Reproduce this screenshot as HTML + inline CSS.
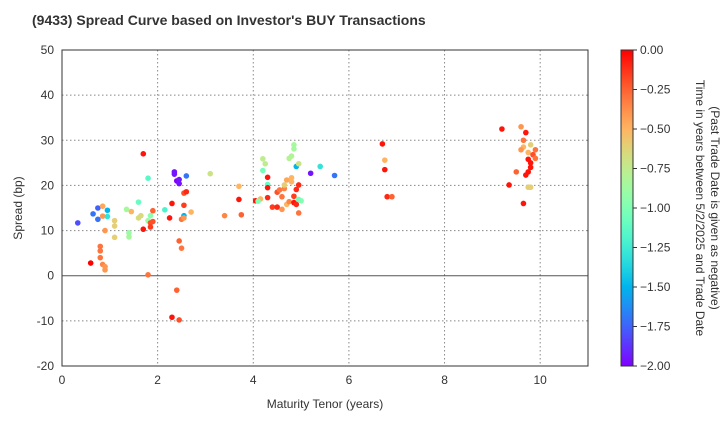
<!DOCTYPE html><html><head><meta charset="utf-8"><style>body{margin:0;background:#fff}svg text{font-family:"Liberation Sans",sans-serif;fill:#333}</style></head><body>
<svg id="c" width="720" height="420" xmlns="http://www.w3.org/2000/svg">
<defs><linearGradient id="g" x1="0" y1="1" x2="0" y2="0"></linearGradient></defs>
<text x="32" y="25" font-size="14" font-weight="bold" style="fill:#333">(9433)   Spread Curve based on Investor's BUY Transactions</text>
<g id="plot"></g>
</svg>
<script>
const xTicks=[0,2,4,6,8,10];
const yTicks=[-20,-10,0,10,20,30,40,50];
const cTicks=[0,-0.25,-0.5,-0.75,-1,-1.25,-1.5,-1.75,-2];
const cTickLabels=["0.00","−0.25","−0.50","−0.75","−1.00","−1.25","−1.50","−1.75","−2.00"];
const tenor=[0.33,0.6,0.65,0.75,0.75,0.8,0.8,0.8,0.85,0.9,0.9,0.85,0.85,0.95,0.95,0.9,1.1,1.1,1.1,1.35,1.45,1.4,1.4,1.6,1.65,1.7,1.6,1.8,1.85,1.8,1.85,1.9,1.9,1.85,1.7,1.8,2.15,2.3,2.25,2.35,2.35,2.4,2.45,2.45,2.6,2.55,2.55,2.6,2.5,2.55,2.55,2.7,2.45,2.5,2.3,2.45,2.4,3.1,3.4,3.7,3.7,3.75,
4.2,4.25,4.2,4.3,4.3,4.3,4.3,4.15,4.05,4.1,4.4,4.5,4.5,4.55,4.6,4.65,4.7,4.65,4.8,4.8,4.75,4.8,4.85,4.85,4.9,4.95,4.7,4.6,4.75,4.85,4.9,4.95,5,4.9,4.95,4.95,4.85,5.2,5.4,5.7,6.7,6.75,6.75,6.8,6.9,
9.2,9.6,9.7,9.65,9.8,9.65,9.75,9.9,9.85,9.75,9.8,9.8,9.75,9.7,9.5,9.35,9.75,9.8,9.65,9.9,9.6];
const spread=[11.7,2.8,13.7,15,12.5,6.5,5.5,4,2.5,1.3,2,13.2,15.4,14.5,13.1,10,12.2,11,8.5,14.7,14.2,9.5,8.6,12.8,13.3,27,16.3,21.6,13.3,12.2,11.7,14.4,12,10.8,10.3,0.2,14.6,16,12.8,23,22.5,21,21.3,20.4,22.1,13.3,18.3,18.6,12.5,12.8,15.6,14.1,7.7,6.1,-9.2,-9.8,-3.2,22.6,13.3,19.8,16.9,13.5,
25.9,24.8,23.3,21.8,20.2,19.5,17.3,17,16.6,16.5,15.2,15.2,18.5,19,17.5,19.3,21.2,20.1,21.7,20.8,26,26.5,29,28.1,24.2,24.8,15.8,14.7,16.4,16.2,15.8,16.9,16.6,19.1,20.1,13.9,17.6,22.7,24.2,22.2,29.2,25.6,23.5,17.5,17.5,
32.5,33,31.7,30,29,28.5,27.3,27.9,26.8,25.8,25,24,23,22.3,23,20.1,19.6,19.6,16,26,27.9];
const timeYears=[-1.8,0,-1.7,-1.75,-1.7,-0.3,-0.3,-0.3,-0.35,-0.4,-0.4,-0.4,-0.45,-1.5,-1.3,-0.4,-0.6,-0.6,-0.6,-0.85,-0.5,-0.9,-0.85,-0.65,-0.65,-0.05,-1.1,-1.15,-0.95,-0.9,-0.2,-0.25,-0.2,-0.15,-0.05,-0.3,-1.2,-0.05,-0.05,-1.95,-1.95,-2,-1.95,-1.95,-1.7,-1.5,-0.2,-0.1,-0.3,-0.4,-0.15,-0.5,-0.25,-0.3,-0.05,-0.2,-0.25,-0.7,-0.35,-0.5,-0.05,-0.25,
-0.75,-0.75,-1.05,-0.05,-1.1,-0.05,-0.1,-0.5,-0.05,-1,-0.15,-0.1,-0.2,-0.3,-0.3,-0.35,-0.45,-0.6,-0.5,-0.5,-0.8,-0.8,-0.85,-0.85,-1.5,-0.7,-0.5,-0.4,-0.35,-0.05,-0.1,-1.05,-1,-0.1,-0.1,-0.3,-0.15,-1.95,-1.3,-1.7,-0.05,-0.5,-0.05,-0.1,-0.25,
-0.05,-0.4,-0.05,-0.3,-0.6,-0.5,-0.5,-0.3,-0.2,-0.05,-0.05,-0.05,-0.05,-0.05,-0.25,-0.05,-0.6,-0.6,-0.05,-0.3,-0.4];
const NS="http://www.w3.org/2000/svg";
const L=62,R=588,T=50,B=366;
const sx=v=>L+(v-0)/11*(R-L);
const sy=v=>B-(v+20)/70*(B-T);
const CB={x:621,w:12,t:50,b:366};
const cy=v=>CB.b-(v+2)/2*(CB.b-CB.t);
function rb(t){const x=(t+2)/2;const c=v=>Math.round(255*Math.max(0,Math.min(1,v)));return `rgb(${c(Math.abs(2*x-0.5))},${c(Math.sin(Math.PI*x))},${c(Math.cos(Math.PI/2*x))})`;}
function mk(tag,a,p){const e=document.createElementNS(NS,tag);for(const k in a)e.setAttribute(k,a[k]);(p||plot).appendChild(e);return e;}
const plot=document.getElementById('plot');
const grad=document.getElementById('g');
for(let i=0;i<=20;i++){const s=mk('stop',{offset:i/20,'stop-color':rb(-2+i/10)},grad);}
for(const v of xTicks){if(v>0){const l=mk('line',{x1:sx(v),x2:sx(v),y1:T,y2:B,stroke:'#888','stroke-dasharray':'1.5,2.5'});}
const t=mk('text',{x:sx(v),y:B+18,'text-anchor':'middle','font-size':12});t.textContent=v;}
for(const v of yTicks){if(v!==0&&v!==50&&v!==-20){const l=mk('line',{x1:L,x2:R,y1:sy(v),y2:sy(v),stroke:'#888','stroke-dasharray':'1.5,2.5'});}
if(v===0){const l=mk('line',{x1:L,x2:R,y1:sy(0),y2:sy(0),stroke:'#555','stroke-width':1});}
const t=mk('text',{x:L-8,y:sy(v)+4,'text-anchor':'end','font-size':12});t.textContent=v;}
for(let i=0;i<tenor.length;i++){const c=mk('circle',{cx:sx(tenor[i]),cy:sy(spread[i]),r:2.8,fill:rb(timeYears[i])});}
const fr=mk('rect',{x:L,y:T,width:R-L,height:B-T,fill:'none',stroke:'#333'});
const xl=mk('text',{x:(L+R)/2,y:408,'text-anchor':'middle','font-size':12});xl.textContent='Maturity Tenor (years)';
const yl=mk('text',{x:0,y:0,'text-anchor':'middle','font-size':12,transform:`translate(22,${(T+B)/2}) rotate(-90)`});yl.textContent='Spread (bp)';
const cb=mk('rect',{x:CB.x,y:CB.t,width:CB.w,height:CB.b-CB.t,fill:'url(#g)',stroke:'#333'});
cTicks.forEach((v,i)=>{mk('line',{x1:CB.x+CB.w,x2:CB.x+CB.w+4,y1:cy(v),y2:cy(v),stroke:'#333'});const t=mk('text',{x:CB.x+CB.w+7,y:cy(v)+4,'font-size':12});t.textContent=cTickLabels[i];});
const c1=mk('text',{x:0,y:0,'text-anchor':'middle','font-size':12,transform:`translate(696,${(T+B)/2}) rotate(90)`});c1.textContent='Time in years between 5/2/2025 and Trade Date';
const c2=mk('text',{x:0,y:0,'text-anchor':'middle','font-size':12,transform:`translate(711,${(T+B)/2}) rotate(90)`});c2.textContent='(Past Trade Date is given as negative)';
</script></body></html>
